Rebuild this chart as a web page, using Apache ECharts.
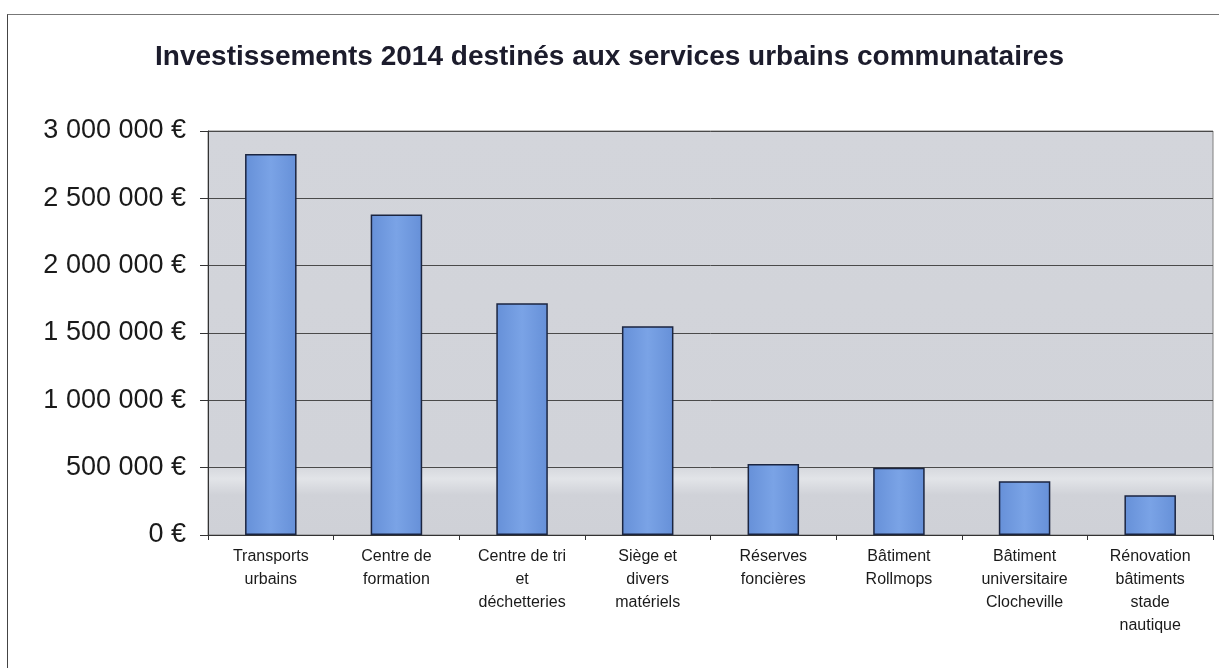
<!DOCTYPE html>
<html><head><meta charset="utf-8">
<script src="https://cdn.jsdelivr.net/npm/echarts@6/dist/echarts.min.js"></script>
<style>html,body{margin:0;padding:0;background:#fff}#c{width:1219px;height:668px}
#frame{position:absolute;left:7px;top:14px;width:1220px;height:700px;border-left:1px solid #444;border-top:1px solid #777;pointer-events:none}</style>
</head><body><div id="c"></div><div id="frame"></div>
<script>
const titleText = 'Investissements 2014 destinés aux services urbains communataires';
const categories = ['Transports\nurbains','Centre de\nformation','Centre de tri\net\ndéchetteries','Siège et\ndivers\nmatériels','Réserves\nfoncières','Bâtiment\nRollmops','Bâtiment\nuniversitaire\nClocheville','Rénovation\nbâtiments\nstade\nnautique'];
const values = [2830000, 2380000, 1720000, 1550000, 527000, 500000, 400000, 295000];
const yTicks = [0, 500000, 1000000, 1500000, 2000000, 2500000, 3000000];

function fmt(v){ return String(v).replace(/\B(?=(\d{3})+(?!\d))/g,' ') + ' €'; }

const chart = echarts.init(document.getElementById('c'));
chart.setOption({
  animation:false,
  backgroundColor:'#ffffff',
  title:{text:titleText,left:'center',top:38,textStyle:{fontFamily:'Liberation Sans, Arial',fontSize:28,fontWeight:'bold',color:'#1c1c2c'}},
  grid:{left:208,right:6,top:131,bottom:133,show:true,borderWidth:1,borderColor:'#808080',
    backgroundColor:{type:'linear',x:0,y:0,x2:0,y2:1,colorStops:[
      {offset:0,color:'#d3d5db'},{offset:0.82,color:'#d1d3d9'},{offset:0.86,color:'#e2e4e8'},{offset:0.9,color:'#d0d2d8'},{offset:1,color:'#cfd1d7'}]}},
  xAxis:{type:'category',data:categories,
    axisLine:{lineStyle:{color:'#333',width:1}},
    axisTick:{show:true,length:5,lineStyle:{color:'#333'}},
    axisLabel:{interval:0,fontFamily:'Liberation Sans, Arial',fontSize:16,color:'#1a1a1a',lineHeight:23,margin:10}},
  yAxis:{type:'value',min:0,max:3000000,interval:500000,
    axisLine:{show:true,lineStyle:{color:'#333',width:1}},
    axisTick:{show:true,length:8,lineStyle:{color:'#333'}},
    splitLine:{lineStyle:{color:'#4a4a4a',width:1}},
    axisLabel:{formatter:v=>yTicks.includes(v)?fmt(v):'',fontFamily:'Liberation Sans, Arial',fontSize:27,color:'#1a1a1a',margin:22}},
  series:[{type:'bar',data:values,barWidth:'41%',
    itemStyle:{borderColor:'#1b2540',borderWidth:1.5,
      color:{type:'linear',x:0,y:0,x2:1,y2:0,colorStops:[{offset:0,color:'#6690d8'},{offset:0.5,color:'#7aa3e6'},{offset:1,color:'#6690d8'}]}}}]
});
</script></body></html>
